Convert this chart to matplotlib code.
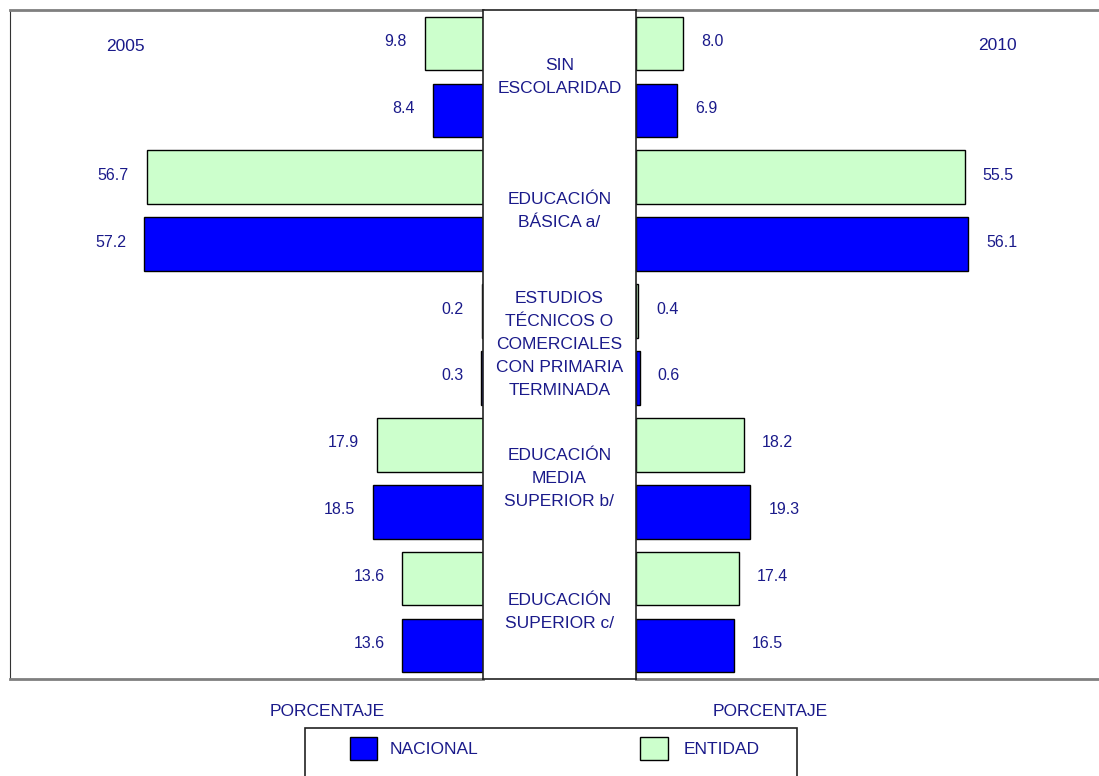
import matplotlib
matplotlib.use("Agg")
import matplotlib.pyplot as plt
from matplotlib.patches import Rectangle

plt.rcParams['font.family'] = ['Liberation Sans', 'DejaVu Sans']

categories = ["SIN\nESCOLARIDAD", "EDUCACIÓN\nBÁSICA a/",
              "ESTUDIOS\nTÉCNICOS O\nCOMERCIALES\nCON PRIMARIA\nTERMINADA",
              "EDUCACIÓN\nMEDIA\nSUPERIOR b/", "EDUCACIÓN\nSUPERIOR c/"]
entidad_2005 = [9.8, 56.7, 0.2, 17.9, 13.6]
nacional_2005 = [8.4, 57.2, 0.3, 18.5, 13.6]
entidad_2010 = [8.0, 55.5, 0.4, 18.2, 17.4]
nacional_2010 = [6.9, 56.1, 0.6, 19.3, 16.5]
years = ["2005", "2010"]
series_names = ["NACIONAL", "ENTIDAD"]
axis_label = "PORCENTAJE"

C_NAC = "#0000FF"
C_ENT = "#CCFFCC"
TXT = "#1a1a8a"
GRAY = "#7f7f7f"

W, H = 1099, 776
fig = plt.figure(figsize=(W / 100, H / 100), dpi=100)

def fx(px):
    return px / W

def fy(py):
    return 1 - py / H

top, bottom = 10, 679
axL = fig.add_axes([fx(10), fy(bottom), fx(483 - 10), (bottom - top) / H])
axC = fig.add_axes([fx(483), fy(bottom), fx(636 - 483), (bottom - top) / H])
axR = fig.add_axes([fx(636), fy(bottom), fx(1099 - 636), (bottom - top) / H])

n = len(categories)
y_ent = [2 * k for k in range(n)]
y_nac = [2 * k + 1 for k in range(n)]

for ax in (axL, axC, axR):
    ax.set_ylim(2 * n - 0.5, -0.5)
    ax.set_xticks([])
    ax.set_yticks([])

axL.set_xlim(79.8, 0)
axR.set_xlim(0, 78.2)
axC.set_xlim(0, 1)

for ax, ent, nac, sign in ((axL, entidad_2005, nacional_2005, -1),
                           (axR, entidad_2010, nacional_2010, 1)):
    ax.barh(y_ent, ent, height=0.8, color=C_ENT, edgecolor="black", linewidth=1.0)
    ax.barh(y_nac, nac, height=0.8, color=C_NAC, edgecolor="black", linewidth=1.0)
    for yy, v in list(zip(y_ent, ent)) + list(zip(y_nac, nac)):
        ax.annotate(f"{v:.1f}", (v, yy), xytext=(sign * 18, 2), textcoords="offset pixels",
                    ha="right" if sign < 0 else "left", va="center",
                    fontsize=11.5, color=TXT)

# spines
axL.spines["right"].set_visible(False)
axL.spines["left"].set_color("#333333")
axL.spines["top"].set_color(GRAY)
axL.spines["bottom"].set_color(GRAY)
axL.spines["top"].set_linewidth(2)
axL.spines["bottom"].set_linewidth(2)

axR.spines["right"].set_visible(False)
axR.spines["left"].set_visible(False)
axR.spines["top"].set_color(GRAY)
axR.spines["bottom"].set_color(GRAY)
axR.spines["top"].set_linewidth(2)
axR.spines["bottom"].set_linewidth(2)

for s in axC.spines.values():
    s.set_color("#222222")
    s.set_linewidth(1.2)
axC.set_zorder(3)

for k, cat in enumerate(categories):
    axC.text(0.5, 2 * k + 0.5, cat, ha="center", va="center", fontsize=12.5,
             color=TXT, linespacing=1.65)

axL.text(0.243, 0.945, years[0], transform=axL.transAxes, ha="center", va="center",
         fontsize=12.5, color=TXT)
axR.text(0.78, 0.947, years[1], transform=axR.transAxes, ha="center", va="center",
         fontsize=12.5, color=TXT)

fig.text(fx(327), fy(712), axis_label, ha="center", va="center", fontsize=12.5, color=TXT)
fig.text(fx(770), fy(712), axis_label, ha="center", va="center", fontsize=12.5, color=TXT)

# legend box
fig.patches.append(Rectangle((fx(305), fy(790)), fx(797 - 305), (790 - 728) / H,
                             transform=fig.transFigure, facecolor="white",
                             edgecolor="#222222", linewidth=1.2))
fig.patches.append(Rectangle((fx(350), fy(760)), fx(27), 23 / H, transform=fig.transFigure,
                             facecolor=C_NAC, edgecolor="black", linewidth=1.0))
fig.patches.append(Rectangle((fx(640), fy(760)), fx(28), 23 / H, transform=fig.transFigure,
                             facecolor=C_ENT, edgecolor="black", linewidth=1.0))
fig.text(fx(390), fy(750), series_names[0], ha="left", va="center", fontsize=12.5, color=TXT)
fig.text(fx(684), fy(750), series_names[1], ha="left", va="center", fontsize=12.5, color=TXT)

fig.savefig("out.png", dpi=100, facecolor="white")
